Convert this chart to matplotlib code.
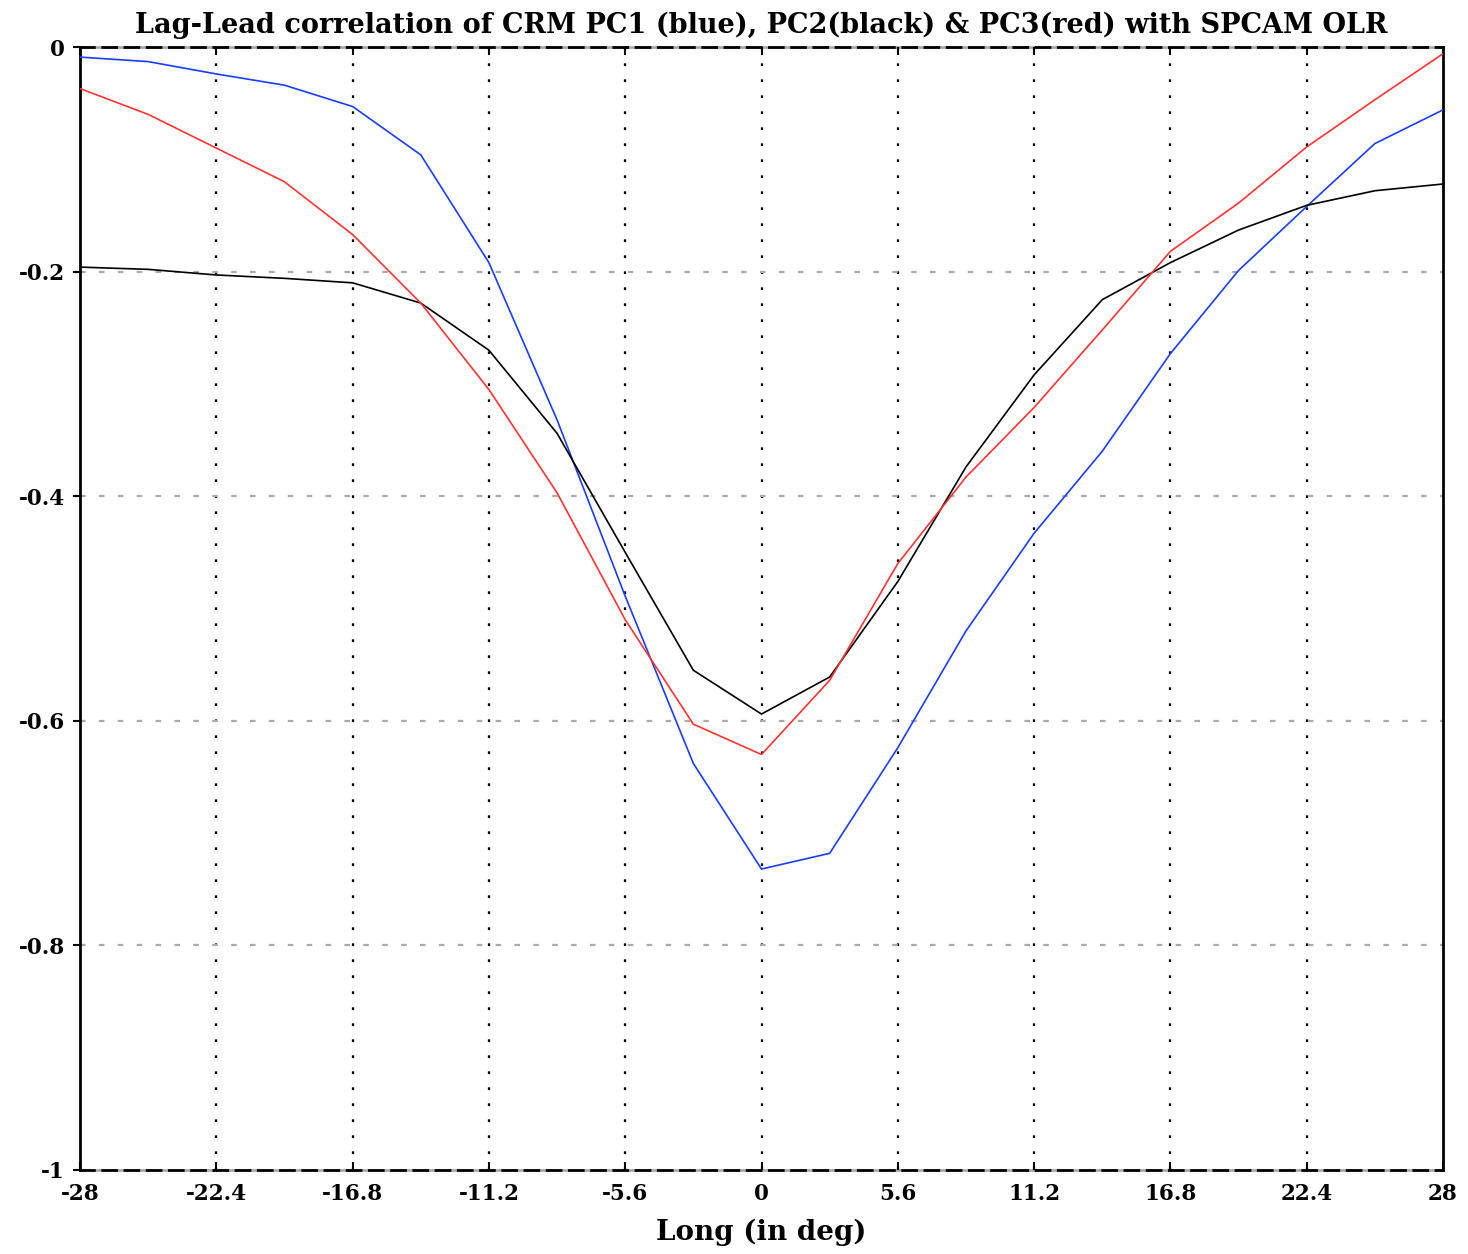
import matplotlib
matplotlib.use("Agg")
import matplotlib.pyplot as plt

# longitudes (deg), every 2.8
lon = [-28.0, -25.2, -22.4, -19.6, -16.8, -14.0, -11.2, -8.4, -5.6, -2.8, 0.0,
       2.8, 5.6, 8.4, 11.2, 14.0, 16.8, 19.6, 22.4, 25.2, 28.0]

pc1_blue = [-0.009, -0.013, -0.024, -0.034, -0.053, -0.096, -0.192, -0.332, -0.489, -0.638, -0.732,
            -0.718, -0.624, -0.52, -0.433, -0.36, -0.273, -0.199, -0.142, -0.086, -0.056]
pc2_black = [-0.196, -0.198, -0.203, -0.206, -0.21, -0.228, -0.27, -0.344, -0.45, -0.555, -0.594,
             -0.561, -0.476, -0.374, -0.292, -0.225, -0.192, -0.163, -0.141, -0.128, -0.122]
pc3_red = [-0.037, -0.06, -0.09, -0.12, -0.167, -0.228, -0.305, -0.397, -0.51, -0.603, -0.63,
           -0.564, -0.46, -0.383, -0.321, -0.252, -0.182, -0.139, -0.089, -0.047, -0.006]

xticks = [-28, -22.4, -16.8, -11.2, -5.6, 0, 5.6, 11.2, 16.8, 22.4, 28]
xticklabels = ["-28", "-22.4", "-16.8", "-11.2", "-5.6", "0", "5.6", "11.2", "16.8", "22.4", "28"]
yticks = [0, -0.2, -0.4, -0.6, -0.8, -1]
yticklabels = ["0", "-0.2", "-0.4", "-0.6", "-0.8", "-1"]

font = "DejaVu Serif"

fig = plt.figure(figsize=(14.68, 12.54), dpi=100)
ax = fig.add_axes([80/1468, 84/1254, 1363/1468, 1123/1254])

# grid lines
for x in xticks[1:-1]:
    ax.axvline(x, color="black", lw=1.6, ls=(0, (1.2, 6)), zorder=1)
for y in yticks[1:-1]:
    ax.axhline(y, color="#aaaaaa", lw=1.6, ls=(0, (2.5, 6)), zorder=1)
for y in (0, -1):
    ax.axhline(y, color="#aaaaaa", lw=2, zorder=1, clip_on=False)

ax.plot(lon, pc1_blue, color="#1a3cff", lw=1.2, zorder=3)
ax.plot(lon, pc2_black, color="black", lw=1.2, zorder=3)
ax.plot(lon, pc3_red, color="#ff3333", lw=1.2, zorder=3)

ax.set_xlim(-28, 28)
ax.set_ylim(-1, 0)

ax.set_xticks(xticks)
ax.set_xticklabels(xticklabels, fontfamily=font, fontweight="bold", fontsize=15.5)
ax.set_yticks(yticks)
ax.set_yticklabels(yticklabels, fontfamily=font, fontweight="bold", fontsize=15.5)
ax.tick_params(axis="x", direction="in", length=6, width=1.5, top=True, pad=9)
ax.tick_params(axis="y", direction="out", length=5, width=1.5, pad=6)

for side in ("left", "right"):
    ax.spines[side].set_linewidth(2)
for side in ("top", "bottom"):
    ax.spines[side].set_linewidth(2)
    ax.spines[side].set_linestyle((0, (5, 3)))

ax.set_title("Lag-Lead correlation of CRM PC1 (blue), PC2(black) & PC3(red) with SPCAM OLR",
             fontfamily=font, fontweight="bold", fontsize=19.5, pad=10)
ax.set_xlabel("Long (in deg)", fontfamily=font, fontweight="bold", fontsize=20, labelpad=10)

fig.savefig("out.png", dpi=100)
